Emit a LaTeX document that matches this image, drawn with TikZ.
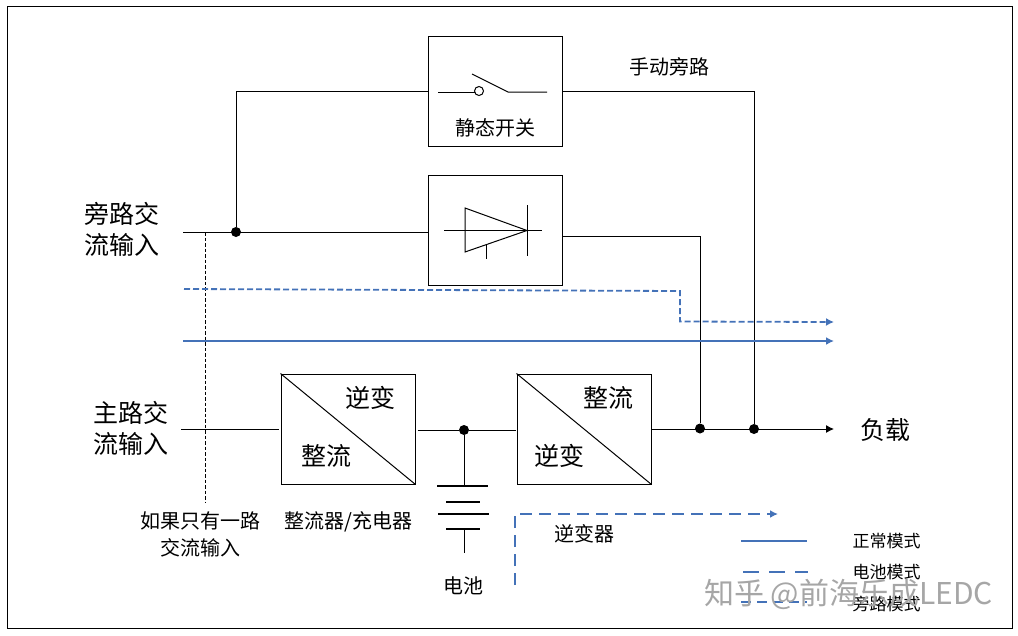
\documentclass[tikz,border=0pt]{standalone}
\usepackage{fontspec}
\setmainfont{Noto Sans CJK SC}
\usetikzlibrary{arrows.meta}

\begin{document}
\begin{tikzpicture}[x=1pt, y=-1pt, line join=miter]
  % ---- Styles ----
  \definecolor{upsblue}{HTML}{4472B8}
  \tikzset{
    wire/.style={line width=1pt, black},
    thinwire/.style={line width=0.8pt, black, dash pattern=on 3.5pt off 2pt},
    tip/.style={-{Latex[length=8pt,width=8pt]}},
    block/.style={draw, line width=1pt, minimum width=134pt, minimum height=110pt, inner sep=0pt},
    plate/.style={line width=2pt, black},
    junction/.style={circle, fill=black, inner sep=0pt, minimum size=10pt},
    normalpath/.style={line width=1.8pt, color=upsblue},
    bypasspath/.style={line width=1.8pt, color=upsblue, dash pattern=on 6pt off 3pt},
    batterypath/.style={line width=2pt, color=upsblue, dash pattern=on 12pt off 7pt},
    biglabel/.style={font=\fontsize{25}{31}\selectfont, align=center},
    note/.style={font=\fontsize{20}{27}\selectfont, align=center},
    legend/.style={font=\fontsize{17}{20}\selectfont},
  }

  \useasboundingbox (0,0) rectangle (1018,635);

  % Outer frame
  \draw[line width=1pt] (7,6.6) rectangle (1012,628);

  % ---- Blocks ----
  \node[block] (switchbox) at (495,91.5) {};
  \node[block] (diodebox) at (495,230.5) {};
  \node[block] (rectbox) at (348,429) {};
  \node[block] (invbox) at (584,429) {};

  \draw[wire] (rectbox.north west) -- (rectbox.south east);
  \draw[wire] (invbox.north west) -- (invbox.south east);

  % ---- Junctions and free ends ----
  \node[junction] (jbypass) at (236,232) {};
  \node[junction] (jbatt) at (464,430) {};
  \node[junction] (jdiode) at (700,428.5) {};
  \node[junction] (jmanual) at (754,429) {};

  \coordinate (bypassin) at (183,232);
  \coordinate (mainin) at (181,429);
  \coordinate (loadend) at (834,429);
  \coordinate (diodeout) at (563,236);
  \coordinate (dashtop) at (205,232);
  \coordinate (dashend) at (205,503);

  % ---- Wiring ----
  \draw[wire] (jbypass) |- (switchbox.west);
  \draw[wire] (switchbox.east) -| (jmanual);
  \draw[wire] (bypassin) -- (bypassin -| diodebox.west);
  \draw[wire] (diodeout) -| (jdiode);
  \draw[wire] (mainin) -- ([xshift=-2pt]mainin -| rectbox.west);
  \draw[wire] ([xshift=2pt]jbatt -| rectbox.east) -- (jbatt) -- ([xshift=-1pt]jbatt -| invbox.west);
  \draw[wire, tip] (invbox.east) -- (loadend);
  \draw[thinwire] (dashtop) -- (dashend);

  % Static switch symbol
  \draw[wire] (438,92) -- (474.5,92);
  \draw[wire] (479,91) circle (4.5);
  \draw[wire] (472,74) -- (508,92) -- (547,92);
  \node[note] (switchlabel) at (495.5,128) {静态开关};

  % Thyristor symbol
  \draw[wire] (465,208) -- (527,230.5) -- (465,252) -- cycle;
  \draw[wire] (444,230.5) -- (542,230.5);
  \draw[wire] (527,205) -- (527,256);
  \draw[wire] (486,245) -- (486,259);

  % Battery
  \draw[wire] (jbatt) -- (464,485);
  \draw[plate] (437,486) -- (488,486);
  \draw[plate] (446,501.5) -- (480,501.5);
  \draw[plate] (438,514) -- (489,514);
  \draw[plate] (446,529) -- (480,529);
  \draw[wire] (464,529) -- (464,553);

  % ---- Power paths ----
  \draw[bypasspath, tip] (184,289) -- (680,291) -- (680,321.5) -- (834,322);
  \draw[normalpath, tip] (183,341) -- (834,341);
  \draw[batterypath, tip] (515,585) -- (515,514) -- (778,514);

  % ---- Labels ----
  \node[biglabel] (bypasslabel) at (122,229) {旁路交\\流输入};
  \node[biglabel] (mainlabel) at (131,428) {主路交\\流输入};
  \node[biglabel] (loadlabel) at (885,430) {负载};
  \node[biglabel] (rectup) at (370.5,398) {逆变};
  \node[biglabel] (rectdown) at (326,456) {整流};
  \node[biglabel] (invup) at (608,398) {整流};
  \node[biglabel] (invdown) at (559,456) {逆变};
  \node[note] (manuallabel) at (669,67) {手动旁路};
  \node[note] (singlelabel) at (200.5,534) {如果只有一路\\交流输入};
  \node[note] (chargerlabel) at (348.5,522) {整流器/充电器};
  \node[note] (battlabel) at (463.5,586) {电池};
  \node[note] (invlabel) at (584,534) {逆变器};

  % ---- Legend ----
  \draw[normalpath] (741,541) -- (807,541);
  \draw[line width=1.8pt, color=upsblue, dash pattern=on 16pt off 10pt] (743,572) -- (808,572);
  \draw[line width=1.8pt, color=upsblue, dash pattern=on 10pt off 6pt] (741,602) -- (807,602);
  \node[legend] (normallabel) at (886.5,541) {正常模式};
  \node[legend] (batterylabel) at (886.5,572) {电池模式};
  \node[legend] (bypasslegend) at (886.5,604) {旁路模式};

  % Site mark
  \node[font=\fontsize{30}{32}\selectfont, text=black!35, anchor=west, inner sep=0pt] (sitemark) at (704,594) {知乎 @前海乐成LEDC};
\end{tikzpicture}
\end{document}
